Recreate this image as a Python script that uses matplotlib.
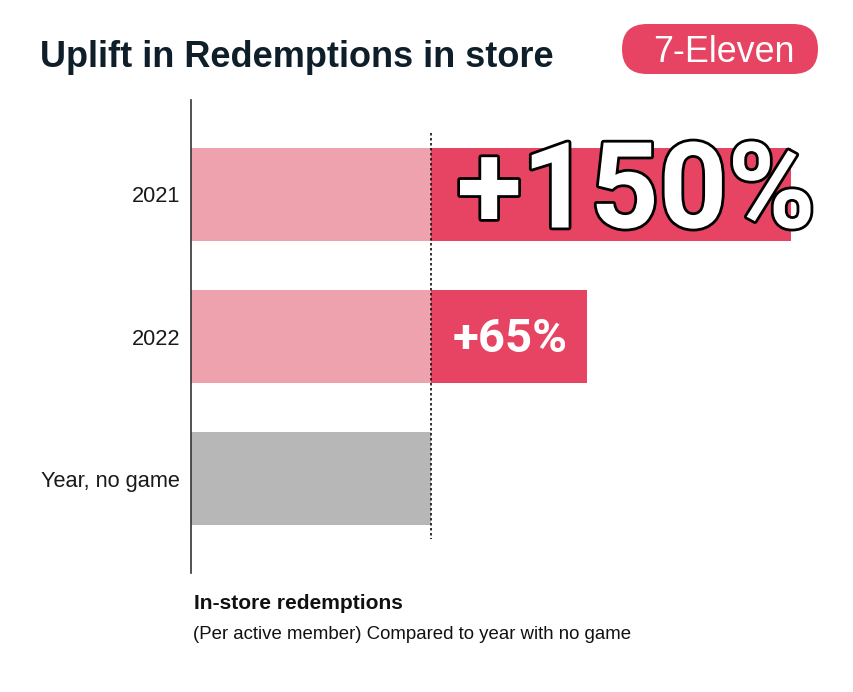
import matplotlib.pyplot as plt
import matplotlib.patheffects as pe
from matplotlib.patches import FancyBboxPatch

# Data
categories = ["2021", "2022", "Year, no game"]
baseline = [100, 100, 100]
uplift = [150, 65, 0]
uplift_labels = ["+150%", "+65%", ""]

DARK_RED = "#E64462"
LIGHT_PINK = "#EDA2AD"
GREY = "#B7B7B7"
TITLE_COLOR = "#0F1F2A"

W, H = 854, 692
fig = plt.figure(figsize=(W / 100, H / 100), dpi=100)

# overlay in pixel coords for title, badge and notes
over = fig.add_axes([0, 0, 1, 1], zorder=0)
over.set_xlim(0, W)
over.set_ylim(H, 0)
over.axis("off")

# chart axes: x=191..851, y=100..573 px
ax = fig.add_axes([191 / W, 1 - 573 / H, 660 / W, 473 / H], zorder=1)
ax.patch.set_alpha(0)
ax.set_xlim(0, 275)
ax.set_ylim(2.66, -0.66)

pos = list(range(len(categories)))
bar_h = 0.653
base_colors = [LIGHT_PINK, LIGHT_PINK, GREY]
ax.barh(pos, baseline, height=bar_h, color=base_colors, zorder=2)
ax.barh(pos, uplift, left=baseline, height=bar_h, color=DARK_RED, zorder=2)

# dotted reference line at the baseline value
ax.plot([baseline[0], baseline[0]], [-0.43, 2.42], ls=(0, (1.5, 1.5)),
        color="#111111", lw=1.2, zorder=3)

for spine in ["top", "right", "bottom"]:
    ax.spines[spine].set_visible(False)
ax.spines["left"].set_color("#333333")
ax.spines["left"].set_linewidth(1.2)
ax.set_xticks([])
ax.set_yticks(pos)
ax.set_yticklabels(categories, fontsize=15.7, family="Liberation Sans", color="#1a1a1a")
ax.tick_params(axis="y", length=0, pad=8)

# uplift labels
ax.text(185.5, 0.235, uplift_labels[0], ha="center", va="baseline",
        fontsize=86, family="Roboto", weight="bold", color="white", zorder=5,
        path_effects=[pe.withStroke(linewidth=4, foreground="black")])
ax.text(133, 1.109, uplift_labels[1], ha="center", va="baseline",
        fontsize=34, family="Roboto", weight="bold", color="white", zorder=5)

# title
over.text(40, 67, "Uplift in Redemptions in store", fontsize=26,
          family="Liberation Sans", weight="bold", color=TITLE_COLOR, ha="left", va="baseline")

# badge
badge = FancyBboxPatch((622, 24), 196, 50, boxstyle="round,pad=0,rounding_size=25",
                       facecolor=DARK_RED, edgecolor="none")
over.add_patch(badge)
over.text(724, 62, "7-Eleven", fontsize=25.8, family="Liberation Sans",
          color="white", ha="center", va="baseline")

# notes
over.text(194, 609, "In-store redemptions", fontsize=15.1,
          family="Liberation Sans", weight="bold", color="#111111", ha="left", va="baseline")
over.text(193, 639, "(Per active member) Compared to year with no game", fontsize=13.4,
          family="Liberation Sans", color="#111111", ha="left", va="baseline")

fig.savefig("out.png", dpi=100)
